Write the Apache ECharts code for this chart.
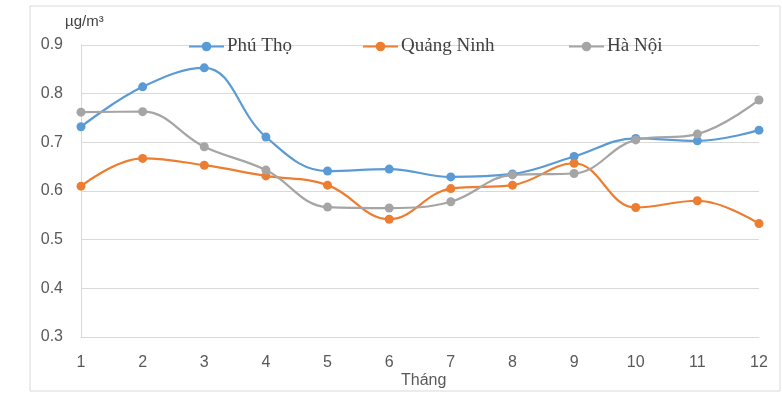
<!DOCTYPE html>
<html><head><meta charset="utf-8">
<script src="https://cdn.jsdelivr.net/npm/echarts@6/dist/echarts.min.js"></script>
<style>html,body{margin:0;padding:0;background:#fff}#c{width:782px;height:394px}</style>
</head><body><div id="c"></div>
<script>
const months = ['1','2','3','4','5','6','7','8','9','10','11','12'];
const phuTho = [0.732,0.814,0.853,0.711,0.641,0.645,0.629,0.635,0.671,0.708,0.703,0.725];
const quangNinh = [0.610,0.667,0.653,0.631,0.612,0.542,0.605,0.612,0.657,0.566,0.580,0.533];
const haNoi = [0.762,0.763,0.691,0.643,0.567,0.565,0.578,0.633,0.636,0.705,0.717,0.787];
const seriesNames = ['Phú Thọ','Quảng Ninh','Hà Nội'];
const colors = ['#5b9bd5','#ed7d31','#a5a5a5'];

const chart = echarts.init(document.getElementById('c'));
const legendBase = {
  top: 37, padding: 0, itemWidth: 35, itemHeight: 12, itemGap: 0,
  textStyle: {fontFamily: 'Liberation Serif', fontSize: 19, color: '#404040', padding: [0,0,0,-2]}
};
function mk(name, data, color) {
  return {
    name, type: 'line', data, smooth: 0.4,
    symbol: 'circle', symbolSize: 9,
    lineStyle: {width: 2.2, color}, itemStyle: {color},
    emphasis: {disabled: true}
  };
}
chart.setOption({
  animation: false,
  color: colors,
  grid: {left: 81, right: 23, top: 45, bottom: 57},
  legend: [
    Object.assign({left: 188, data: [seriesNames[0]]}, legendBase),
    Object.assign({left: 362, data: [seriesNames[1]]}, legendBase),
    Object.assign({left: 568, data: [seriesNames[2]]}, legendBase)
  ],
  xAxis: {
    type: 'category', data: months, boundaryGap: false,
    axisLine: {lineStyle: {color: '#d9d9d9', width: 1}},
    axisTick: {show: false},
    axisLabel: {color: '#595959', fontSize: 16, fontFamily: 'Liberation Sans', margin: 18}
  },
  yAxis: {
    type: 'value', min: 0.3, max: 0.9, interval: 0.1,
    axisLine: {show: true, lineStyle: {color: '#d9d9d9', width: 1}},
    axisTick: {show: false},
    splitLine: {lineStyle: {color: '#d9d9d9', width: 1}},
    axisLabel: {color: '#595959', fontSize: 16, fontFamily: 'Liberation Sans', margin: 18,
      formatter: v => v.toFixed(1)}
  },
  graphic: [
    {type: 'rect', shape: {x: 30, y: 6, width: 750, height: 385},
     style: {fill: 'none', stroke: '#d9d9d9', lineWidth: 1}, silent: true, z: -1},
    {type: 'text', left: 65, top: 14,
     style: {text: 'µg/m³', fontFamily: 'Liberation Sans', fontSize: 15, fill: '#404040'}},
    {type: 'text', left: 401, top: 373,
     style: {text: 'Tháng', fontFamily: 'Liberation Sans', fontSize: 16, fill: '#595959'}}
  ],
  series: [
    mk(seriesNames[0], phuTho, colors[0]),
    mk(seriesNames[1], quangNinh, colors[1]),
    mk(seriesNames[2], haNoi, colors[2])
  ]
});
</script></body></html>
